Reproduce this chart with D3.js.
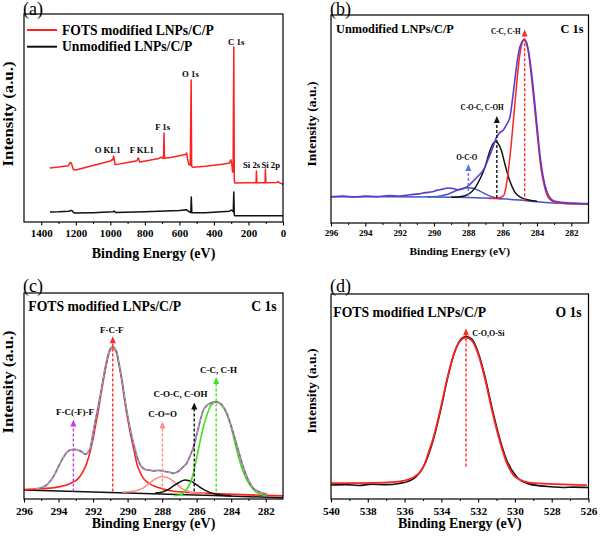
<!DOCTYPE html>
<html><head><meta charset="utf-8">
<script src="https://cdn.jsdelivr.net/npm/d3@7"></script>
<style>
body{margin:0;background:#fff}
svg{display:block}
text{font-family:"Liberation Serif","Times New Roman",serif;font-weight:bold;fill:#000}
</style></head>
<body><svg id="chart" width="600" height="539"></svg>
<script>
// ---------------- DATA ----------------
// (a) survey spectra: [binding energy eV, intensity a.u.]
const surveyFOTS = [[1350,26.0],[1300,26.4],[1245,27.0],[1232,28.6],[1226,28.4],[1214,25.2],[1200,25.0],[1100,27.2],[1000,29.3],[990,30.0],[985,29.8],[981,31.7],[978,30.5],[972,27.6],[960,27.7],[900,28.6],[845,29.5],[840,30.8],[836,30.6],[830,28.8],[780,29.6],[720,30.5],[705,31.2],[697,30.6],[692,30.8],[689,42.8],[686,30.6],[650,31.0],[600,31.8],[565,32.4],[558,33.2],[552,30.0],[545,27.6],[537,27.3],[532,68.3],[529,26.8],[520,26.3],[450,26.8],[350,27.8],[310,28.4],[302,29.9],[296,27.5],[292,24.2],[289,24.0],[285,84.1],[282,20.0],[279,18.8],[200,18.9],[156,18.9],[154,24.5],[151,18.9],[104,18.9],[102,25.5],[99,18.9],[35,19.0],[28,19.5],[20,18.8],[5,18.4],[0,17.8]];
const surveyUnmod = [[1350,4.8],[1300,4.9],[1240,5.2],[1228,5.6],[1222,5.4],[1210,4.3],[1100,4.5],[985,4.9],[978,5.3],[970,4.6],[800,4.9],[600,5.5],[560,5.9],[548,5.2],[540,4.7],[534,4.6],[531,12.0],[528,4.4],[450,4.5],[310,5.2],[300,5.7],[292,5.3],[288,4.9],[285,14.4],[282,3.2],[278,3.0],[150,3.0],[0,3.0]];
const surveyPeakLabels = [
  {text:"C 1s",e:271,v:85.1},{text:"O 1s",e:536,v:69.6},{text:"F 1s",e:697,v:44.2},
  {text:"O KL1",e:1016,v:33.3},{text:"F KL1",e:818,v:33.3},
  {text:"Si 2s",e:182,v:25.8},{text:"Si 2p",e:71,v:25.8}];
const surveyLegend = ["FOTS modified LNPs/C/P","Unmodified LNPs/C/P"];
const surveyTicks = [0,200,400,600,800,1000,1200,1400];
const surveyMinorTicks = [100,300,500,700,900,1100,1300];

// (b) C 1s, unmodified
const c1sUnmodEnvelope = [[296.0,12.6],[295.3,12.9],[294.6,12.5],[294.0,12.9],[293.3,12.7],[292.6,13.2],[292.0,13.0],[291.4,13.6],[290.9,14.0],[290.5,14.6],[290.1,15.0],[289.8,15.8],[289.5,16.3],[289.2,16.8],[288.9,16.6],[288.6,16.0],[288.3,16.5],[288.05,17.6],[287.7,20.3],[287.4,22.8],[287.12,25.5],[286.85,30.5],[286.63,35.1],[286.34,41.5],[286.15,43.5],[285.96,44.7],[285.76,47.5],[285.57,51.1],[285.45,58],[285.3,68],[285.15,78],[285.0,84.5],[284.88,87],[284.75,88.3],[284.62,87],[284.48,82],[284.33,73],[284.17,61],[283.98,45],[283.78,29.5],[283.55,18.5],[283.3,12.8],[283.0,10.6],[282.6,10.0],[282.2,9.7],[281.6,9.5],[281.0,9.3]];
const c1sUnmodBackground = [[296.0,12.6],[290,12.5],[288,12.3],[287,12.0],[286,11.6],[285,11.0],[284,10.2],[283,9.6],[281,9.0]];
const c1sUnmodCC = [[286.8,11.8],[286.3,11.9],[285.96,13.0],[285.8,17.5],[285.67,25],[285.5,38],[285.28,58],[285.1,74],[284.99,81.5],[284.87,86.5],[284.75,88.0],[284.63,86.5],[284.5,82],[284.35,72],[284.17,58],[283.98,42],[283.78,27],[283.55,17],[283.34,12.2],[283.0,10.1],[282.5,9.5],[281.5,9.2],[281.0,9.1]];
const c1sUnmodCOC = [[289.0,12.4],[288.5,12.6],[288.0,13.8],[287.6,17.0],[287.3,21.5],[287.02,27.1],[286.75,34.5],[286.55,38.3],[286.42,39.1],[286.28,38.3],[286.1,35.5],[285.86,28.0],[285.6,20.5],[285.3,15.0],[285.0,12.6],[284.6,11.3],[284.0,10.5]];
const c1sUnmodOCO = [[290.4,12.6],[289.8,12.8],[289.2,13.8],[288.7,15.6],[288.3,16.7],[288.0,17.0],[287.7,16.7],[287.3,15.2],[286.9,13.5],[286.5,12.3],[286.0,11.7]];
const c1sUnmodMarkers = [
  {label:"C-C, C-H",e:284.72,top:93.0,bottom:10.4,color:"#ff2a2a",le:285.82,lv:90.9},
  {label:"C-O-C, C-OH",e:286.34,top:51.5,bottom:12.0,color:"#111",le:287.2,lv:54.3},
  {label:"O-C-O",e:288.0,top:28.4,bottom:13.0,color:"#5577ee",le:288.09,lv:30.3}];
const c1sTicks = [282,284,286,288,290,292,294,296];
const c1sMinorTicks = [283,285,287,289,291,293,295];

// (c) C 1s, FOTS modified
const c1sFotsEnvelope = [[295.3,5.0],[294.95,5.6],[294.69,6.8],[294.5,8.5],[294.3,10.8],[294.1,14.0],[293.91,17.3],[293.7,20.5],[293.53,22.5],[293.3,23.8],[293.04,24.1],[292.85,23.6],[292.66,23.0],[292.5,21.9],[292.41,21.7],[292.3,22.6],[292.17,24.5],[292.0,32],[291.88,37.5],[291.7,45],[291.5,54],[291.3,63.5],[291.11,70.5],[290.98,73.2],[290.86,74.0],[290.75,73.2],[290.63,71.2],[290.5,65.8],[290.34,58.6],[290.2,50.5],[290.05,42.8],[289.9,36.0],[289.76,30.5],[289.6,25.0],[289.47,21.0],[289.28,16.8],[289.08,14.8],[288.89,14.1],[288.7,14.0],[288.5,13.6],[288.2,13.9],[287.92,13.5],[287.6,13.0],[287.34,12.5],[287.15,13.0],[286.96,14.1],[286.75,15.8],[286.57,17.5],[286.38,21.0],[286.19,25.0],[285.9,34.5],[285.61,43.2],[285.4,45.5],[285.22,46.4],[285.05,47.0],[284.87,47.2],[284.7,46.6],[284.54,45.6],[284.4,44.0],[284.25,41.6],[284.06,37.0],[283.87,31.9],[283.67,26.0],[283.48,20.5],[283.28,15.0],[283.09,10.8],[282.9,7.6],[282.71,5.2],[282.4,3.6],[282.13,2.7],[281.9,2.2]];
const c1sFotsBaseline = [[296.0,4.4],[290,2.9],[285,1.7],[281.0,0.6]];
const c1sFotsFCF = [[296.0,4.6],[295.2,4.9],[294.49,5.3],[294.0,5.9],[293.53,6.8],[293.2,8.0],[292.85,10.0],[292.6,13.0],[292.37,17.3],[292.17,23.0],[291.98,30.2],[291.84,36.5],[291.69,43.2],[291.55,50.5],[291.4,57.8],[291.25,64.5],[291.11,69.9],[290.98,72.8],[290.86,73.6],[290.75,72.8],[290.63,70.7],[290.5,65],[290.34,57.8],[290.2,49.5],[290.05,41.6],[289.9,34.5],[289.76,28.6],[289.6,22.5],[289.47,17.3],[289.28,13.0],[289.08,10.0],[288.8,7.8],[288.5,6.4],[288.0,5.0],[287.34,3.8],[286.5,3.2],[285.0,2.6],[283.0,2.0],[281.0,1.5]];
const c1sFotsCOO = [[290.3,3.3],[289.66,3.8],[289.3,4.6],[289.08,5.4],[288.8,7.2],[288.5,9.2],[288.2,10.5],[287.98,10.8],[287.7,10.4],[287.44,9.2],[287.15,7.2],[286.86,5.2],[286.5,3.8],[286.19,3.1],[285.5,2.6]];
const c1sFotsCOC = [[288.4,2.9],[288.1,3.2],[287.8,4.0],[287.54,5.2],[287.3,6.6],[287.05,7.9],[286.85,8.8],[286.67,9.2],[286.48,9.0],[286.28,8.4],[286.05,7.1],[285.8,5.7],[285.5,4.2],[285.22,3.1],[284.9,2.4],[284.6,1.9],[284.0,1.5]];
const c1sFotsCC = [[287.3,1.6],[286.96,1.9],[286.67,3.8],[286.38,7.6],[286.19,12.5],[285.99,20.5],[285.8,28.0],[285.61,35.1],[285.4,40.8],[285.22,44.8],[285.05,46.6],[284.87,47.2],[284.7,46.8],[284.54,45.6],[284.3,42.0],[284.06,36.7],[283.82,28.5],[283.58,20.5],[283.33,13.8],[283.09,9.2],[282.8,5.5],[282.51,3.1],[282.2,2.1],[281.93,1.8]];
const c1sFotsMarkers = [
  {label:"F-C(-F)-F",e:293.14,top:38.6,bottom:3.6,color:"#c040e0",le:293.04,lv:40.8},
  {label:"F-C-F",e:290.86,top:79.0,bottom:3.6,color:"#ff2a2a",le:290.92,lv:80.6},
  {label:"C-O=O",e:287.98,top:37.6,bottom:3.6,color:"#ff8a8a",le:287.97,lv:39.6},
  {label:"C-O-C, C-OH",e:286.14,top:46.8,bottom:3.6,color:"#111",le:286.94,lv:49.3},
  {label:"C-C, C-H",e:284.87,top:59.2,bottom:3.6,color:"#44dd22",le:284.73,lv:61.2}];

// (d) O 1s, FOTS modified
const o1sFotsData = [[540,6.8],[539.2,7.0],[538.5,6.6],[537.8,7.2],[537,7.0],[536.3,7.6],[535.8,8.6],[535.4,10.6],[535.0,15.3],[534.7,21.5],[534.42,29.5],[534.06,42.5],[533.7,57.5],[533.34,70.0],[532.97,77.5],[532.66,79.2],[532.34,78.0],[531.98,71.0],[531.61,59.0],[531.25,44.5],[530.89,31.5],[530.43,18.5],[529.89,10.6],[529.3,7.5],[528.6,6.4],[528,6.0],[527.4,5.6],[526.8,5.8],[526,5.6]];
const o1sFotsFit = [[540,7.7],[537.14,8.0],[536.23,8.6],[535.51,10.6],[534.97,15.8],[534.7,22.5],[534.42,30.4],[534.06,43.4],[533.7,58.0],[533.34,70.2],[532.97,77.2],[532.66,78.7],[532.34,77.2],[531.98,70.2],[531.61,58.0],[531.25,43.4],[530.89,30.4],[530.43,17.4],[529.89,10.1],[528.99,7.7],[526.09,6.8]];
const o1sFotsMarkers = [{label:"C-O,O-Si",e:532.66,top:83.3,bottom:15.8,color:"#ff2a2a",le:532.32,lv:79.6,anchor:"start"}];
const o1sTicks = [526,528,530,532,534,536,538,540];
const o1sMinorTicks = [527,529,531,533,535,537,539];

// ---------------- DRAWING ----------------
const svg = d3.select("#chart");
const RED = "#ff2020";

function makePanel(p) {
  const x = d3.scaleLinear().domain(p.xDomain).range([p.x0, p.x1]);
  const y = d3.scaleLinear().domain([0, 100]).range([p.y1, p.y0]);
  const g = svg.append("g");
  const clipId = "clip-" + p.id;
  svg.append("defs").append("clipPath").attr("id", clipId)
    .append("rect").attr("x", p.x0).attr("y", p.y0).attr("width", p.x1 - p.x0).attr("height", p.y1 - p.y0);
  const plot = g.append("g").attr("clip-path", `url(#${clipId})`);
  const major = d3.axisBottom(x).tickValues(p.ticks).tickSize(3.5).tickPadding(p.tickPad).tickFormat(d3.format("d"));
  const ax = g.append("g").attr("transform", `translate(0,${p.y1})`).call(major);
  ax.select(".domain").remove();
  ax.selectAll("text").style("font-size", p.tickFont + "px").style("font-family", '"Liberation Serif",serif').style("font-weight", "bold");
  ax.selectAll("line").attr("stroke", "#000").attr("stroke-width", 1.1);
  const minor = d3.axisBottom(x).tickValues(p.minor).tickSize(2).tickFormat("");
  const mx = g.append("g").attr("transform", `translate(0,${p.y1})`).call(minor);
  mx.select(".domain").remove();
  mx.selectAll("line").attr("stroke", "#000").attr("stroke-width", 1);
  g.append("rect").attr("x", p.x0).attr("y", p.y0).attr("width", p.x1 - p.x0).attr("height", p.y1 - p.y0)
    .attr("fill", "none").attr("stroke", "#000").attr("stroke-width", 1.2);
  g.append("text").attr("x", (p.x0 + p.x1) / 2).attr("y", p.xTitleY).attr("text-anchor", "middle")
    .style("font-size", p.xTitleFont + "px").text("Binding Energy (eV)");
  g.append("text").attr("transform", `translate(${p.yTitleX},${p.yTitleCY}) rotate(-90)`).attr("text-anchor", "middle")
    .style("font-size", p.yTitleFont + "px").attr("textLength", p.yTitleLen).attr("lengthAdjust", "spacingAndGlyphs")
    .text("Intensity (a.u.)");
  g.append("text").attr("x", p.letterX).attr("y", p.letterY).style("font-size", "18px").style("font-weight", "normal")
    .text(`(${p.id})`);
  return {x, y, g, plot};
}

function drawLine(plot, x, y, data, color, width, curve, dash) {
  const line = d3.line().x(d => x(d[0])).y(d => y(d[1])).curve(curve || d3.curveMonotoneX);
  const path = plot.append("path").datum(data).attr("d", line).attr("fill", "none")
    .attr("stroke", color).attr("stroke-width", width).attr("stroke-linejoin", "round");
  if (dash) path.attr("stroke-dasharray", dash);
  return path;
}

function drawMarkers(g, x, y, markers, fontSize) {
  markers.forEach(m => {
    const px = x(m.e), yt = y(m.top), yb = y(m.bottom);
    g.append("line").attr("x1", px).attr("x2", px).attr("y1", yb).attr("y2", yt + 6)
      .attr("stroke", m.color).attr("stroke-width", 1.4).attr("stroke-dasharray", "3,2");
    g.append("path").attr("d", `M${px - 3},${yt + 7}L${px},${yt}L${px + 3},${yt + 7}Z`).attr("fill", m.color);
    g.append("text").attr("x", x(m.le)).attr("y", y(m.lv)).attr("text-anchor", m.anchor || "middle")
      .style("font-size", fontSize + "px").text(m.label);
  });
}

function panelTitle(g, p, left, right) {
  g.append("text").attr("x", p.titleX).attr("y", p.titleY).style("font-size", p.titleFont + "px").text(left);
  g.append("text").attr("x", p.titleRX).attr("y", p.titleY).attr("text-anchor", "end").style("font-size", p.titleFont + "px").text(right);
}

// ---- (a)
const pa = {id:"a", x0:24, x1:283, y0:14, y1:222, xDomain:[1500,0], ticks:surveyTicks, minor:surveyMinorTicks,
  tickFont:11, tickPad:4, xTitleY:257.5, xTitleFont:14, yTitleX:13, yTitleCY:114, yTitleFont:14, yTitleLen:105,
  letterX:23, letterY:15};
{
  const {x, y, g, plot} = makePanel(pa);
  drawLine(plot, x, y, surveyUnmod, "#111", 1.5, d3.curveLinear);
  drawLine(plot, x, y, surveyFOTS, RED, 1.5, d3.curveLinear);
  surveyPeakLabels.forEach(l => g.append("text").attr("x", x(l.e)).attr("y", y(l.v)).attr("text-anchor", "middle")
    .style("font-size", "8.7px").text(l.text));
  const legColors = [RED, "#111"];
  surveyLegend.forEach((t, i) => {
    const ly = 30 + i * 16.7;
    g.append("line").attr("x1", 27).attr("x2", 57).attr("y1", ly).attr("y2", ly).attr("stroke", legColors[i]).attr("stroke-width", 2);
    g.append("text").attr("x", 62).attr("y", ly + 4.5).style("font-size", "13.6px").text(t);
  });
}

// ---- (b)
const pb = {id:"b", x0:331, x1:588.5, y0:15, y1:223, xDomain:[296,281], ticks:c1sTicks, minor:c1sMinorTicks,
  tickFont:9, tickPad:3.5, xTitleY:254.5, xTitleFont:11.4, yTitleX:316, yTitleCY:124, yTitleFont:11.5, yTitleLen:85,
  letterX:330, letterY:15, titleX:336, titleY:33.3, titleRX:583.5, titleFont:12.3};
{
  const {x, y, g, plot} = makePanel(pb);
  drawLine(plot, x, y, c1sUnmodBackground, "#3f55c8", 1.5);
  drawLine(plot, x, y, c1sUnmodOCO, "#3f55c8", 1.5);
  drawLine(plot, x, y, c1sUnmodCOC, "#111", 1.5);
  drawLine(plot, x, y, c1sUnmodCC, RED, 1.5);
  drawLine(plot, x, y, c1sUnmodEnvelope, "#5a3ccf", 1.6);
  drawMarkers(g, x, y, c1sUnmodMarkers, 7.2);
  panelTitle(g, pb, "Unmodified LNPs/C/P", "C 1s");
}

// ---- (c)
const pc = {id:"c", x0:24, x1:283, y0:293, y1:499, xDomain:[296,281], ticks:c1sTicks, minor:c1sMinorTicks,
  tickFont:11.3, tickPad:4.5, xTitleY:527.5, xTitleFont:14, yTitleX:13, yTitleCY:382, yTitleFont:14, yTitleLen:103,
  letterX:23, letterY:291.5, titleX:28.3, titleY:310.7, titleRX:276.7, titleFont:13.7};
{
  const {x, y, g, plot} = makePanel(pc);
  drawLine(plot, x, y, c1sFotsBaseline, "#111", 1.5);
  drawLine(plot, x, y, c1sFotsFCF, RED, 1.6);
  drawLine(plot, x, y, c1sFotsCOO, "#ff8a8a", 1.5);
  drawLine(plot, x, y, c1sFotsCOC, "#111", 1.5);
  drawLine(plot, x, y, c1sFotsCC, "#44e01a", 1.6);
  drawLine(plot, x, y, c1sFotsEnvelope, "#b04cc8", 1.8);
  drawLine(plot, x, y, c1sFotsEnvelope, "#66dd44", 1.3, null, "3,3");
  drawMarkers(g, x, y, c1sFotsMarkers, 9);
  panelTitle(g, pc, "FOTS modified LNPs/C/P", "C 1s");
}

// ---- (d)
const pd = {id:"d", x0:331, x1:588.5, y0:294, y1:499, xDomain:[540,526], ticks:o1sTicks, minor:o1sMinorTicks,
  tickFont:11.3, tickPad:4.5, xTitleY:527.5, xTitleFont:14, yTitleX:316, yTitleCY:391, yTitleFont:12, yTitleLen:85,
  letterX:330, letterY:291.5, titleX:333.3, titleY:317.3, titleRX:581.7, titleFont:13.7};
{
  const {x, y, g, plot} = makePanel(pd);
  drawLine(plot, x, y, o1sFotsData, "#111", 1.6);
  drawLine(plot, x, y, o1sFotsFit, RED, 1.8);
  drawMarkers(g, x, y, o1sFotsMarkers, 8);
  panelTitle(g, pd, "FOTS modified LNPs/C/P", "O 1s");
}
</script></body></html>
